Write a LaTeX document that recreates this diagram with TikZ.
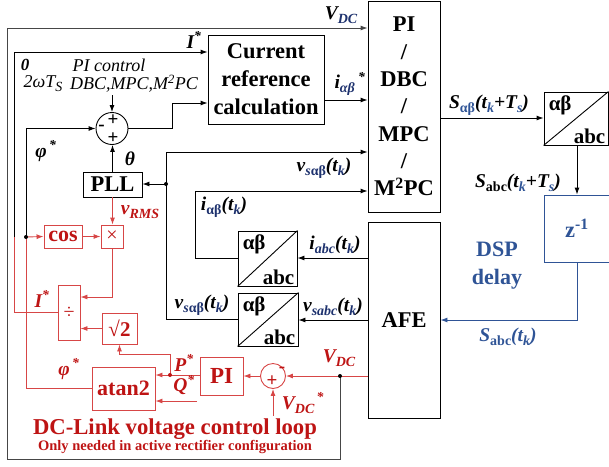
\documentclass[tikz,border=0pt]{standalone}
\usepackage{fontspec}
\setmainfont{Liberation Serif}
\usetikzlibrary{arrows.meta,calc}
\definecolor{rd}{RGB}{190,20,20}
\definecolor{rdl}{RGB}{215,70,70}
\definecolor{bl}{RGB}{47,84,150}
\definecolor{nv}{RGB}{30,50,110}
\definecolor{gr}{RGB}{70,70,70}
\newcommand\ssb[1]{\raisebox{-0.22em}{\fontsize{14}{14}\selectfont #1}}
\newcommand\nsb[1]{\raisebox{-0.22em}{\fontsize{14}{14}\selectfont\color{nv}#1}}
\newcommand\bsb[1]{\raisebox{-0.22em}{\fontsize{14}{14}\selectfont\color{bl}#1}}
\newcommand\st{\textsuperscript{*}}
\tikzset{
  bx/.style 2 args={draw,line width=0.9pt,minimum width=#1,minimum height=#2,inner sep=0pt,align=center},
  bigtxt/.style={font=\fontsize{22.5}{28}\selectfont\bfseries},
  redtxt/.style={font=\fontsize{22}{26}\selectfont\bfseries,text=rd,draw=rdl},
  lab/.style={font=\fontsize{19.5}{21}\selectfont\bfseries\itshape,inner sep=0pt},
  ilab/.style={font=\fontsize{18}{20}\selectfont\itshape,inner sep=0pt},
  sgn/.style={font=\fontsize{19}{19}\selectfont\bfseries,inner sep=0pt},
  ln/.style={line width=0.9pt},
  rl/.style={line width=0.9pt,draw=rdl},
}
\begin{document}
\begin{tikzpicture}[x=1pt,y=-1pt,>={Latex[length=7pt,width=5pt]}]
\useasboundingbox (0,0) rectangle (609,466);
% main blocks
\node[bx={116}{89},bigtxt] (cur) at (266,79.5) {Current\\reference\\calculation};
\node[bx={72}{211},bigtxt,font=\fontsize{22.5}{27.3}\selectfont\bfseries] (pi) at (404,106.5) {PI\\/\\DBC\\/\\MPC\\/\\M\textsuperscript{2}PC};
\node[bx={72}{196},bigtxt] (afe) at (404,320) {AFE};
\node[bx={64}{53}] (ab1) at (576,118.5) {};
\node[bx={66}{67},draw=bl,text=bl,bigtxt] (z) at (577,228.5) {z\textsuperscript{-1}};
\node[bx={59}{55}] (ab2) at (267.5,258.5) {};
\node[bx={60}{53}] (ab3) at (268,319.5) {};
\node[bx={59}{25},bigtxt] (pll) at (112.5,184.5) {PLL};
\node[circle,draw,ln,minimum size=32pt,inner sep=0pt] (s1) at (112,128.5) {};
\node[sgn] at (113,120) {+};
\node[sgn] at (113,138.5) {+};
\node[sgn] at (101.5,128) {-};
% alpha-beta boxes
\foreach \b in {ab1,ab2,ab3}{
  \draw[ln] (\b.south west) -- (\b.north east);
  \node[anchor=north west,inner sep=0pt,font=\fontsize{21}{21}\selectfont\bfseries] at ($(\b.north west)+(5,4)$) {αβ};
  \node[anchor=south east,inner sep=0pt,font=\fontsize{21}{21}\selectfont\bfseries] at ($(\b.south east)+(-3,-2)$) {abc};
}
% red blocks
\node[bx={38}{23},redtxt] (cos) at (63,236.5) {cos};
\node[bx={22}{23},redtxt,font=\fontsize{20}{20}\selectfont] (mul) at (112,236.5) {×};
\node[bx={22}{55},redtxt,font=\fontsize{20}{20}\selectfont] (div) at (69,312.5) {÷};
\node[bx={35}{31},redtxt,font=\fontsize{21}{21}\selectfont\bfseries] (sq) at (119.5,328.5) {√2};
\node[bx={63}{43},redtxt] (atan) at (123.5,388.5) {atan2};
\node[bx={43}{38},redtxt,font=\fontsize{23}{23}\selectfont\bfseries] (pir) at (221.5,376) {PI};
\node[circle,draw=rdl,line width=0.9pt,minimum size=25pt,inner sep=0pt] (s2) at (273,376) {};
\node[sgn,text=rd] at (272,381) {+};
\node[sgn,text=rd] at (282,370) {-};
% coordinates
\coordinate (J) at (340,376);
\coordinate (K) at (166,184);
\coordinate (Pj) at (170,375);
\coordinate (Fj) at (26,237);
% black connections
\draw[ln,gr,->] (J) |- (7,459) |- (pi.west |- 0,28);
\draw[rl] (div.west) -| (14,237);
\draw[ln,->] (14,237) |- (cur.west |- 0,52);
\draw[rl] (atan.west) -| (Fj);
\draw[ln,->] (Fj) |- (s1.west);
\draw[rl,->] (Fj) -- (cos.west);
\draw[ln,->] (112,95) -- (s1.north);
\draw[ln,->] (s1.east) -- (172,128.5) |- (cur.west |- 0,103);
\draw[ln,->] (pll.north) -- (pll.north |- s1.south);
\draw[ln,->] (cur.east |- 0,100) -- (pi.west |- 0,100);
\draw[ln,->] (K) -- (pll.east |- K);
\draw[ln,->] (K) |- (pi.west |- 0,152);
\draw[ln] (ab3.west) -| (K);
\draw[ln,->] (afe.west |- 0,258) -- (ab2.east |- 0,258);
\draw[ln,->] (ab2.west) -| (195,191) -- (pi.west |- 0,191);
\draw[ln,->] (afe.west |- 0,320) -- (ab3.east |- 0,320);
\draw[ln,->] (pi.east |- 0,118) -- (ab1.west |- 0,118);
\draw[ln,->] (577,145) -- (z.north);
\draw[ln,bl,->] (z.south) |- (afe.east |- 0,320);
% red connections
\draw[rl,->] (cos) -- (mul);
\draw[rl,->] (pll.south) -- (pll.south |- mul.north);
\draw[rl,->] (mul.south) |- (div.east |- 0,297);
\draw[rl,->] (sq.west) -- (div.east |- sq.west);
\draw[rl,->] (Pj) -- (170,354) -| (sq.south);
\draw[rl,->] (pir.west |- Pj) -- (atan.east |- Pj);
\draw[rl,->] (197,401) -- (atan.east |- 0,401);
\draw[rl,->] (s2) -- (pir);
\draw[rl,->] (afe.west |- J) -- (s2.east);
\draw[rl,->] (273,416) -- (s2.south);
% dots
\fill (J) circle (2);
\fill (K) circle (2);
\fill (Fj) circle (2);
\fill[rd] (Pj) circle (2);
% black labels
\node[lab] at (341,15) {V\nsb{DC}};
\node[lab] at (194,40) {I\st};
\node[lab] at (350,84) {i\nsb{αβ}\,\textsuperscript{*}};
\node[lab,font=\fontsize{17}{17}\selectfont\bfseries\itshape] at (25,65) {0};
\node[ilab] at (43,84) {2ωT\ssb{S}};
\node[ilab] at (109,65) {PI control};
\node[ilab] at (134,84) {DBC,MPC,M\textsuperscript{2}PC};
\node[lab] at (46,151) {φ\textsuperscript{\,*}};
\node[lab] at (130,159) {θ};
\node[lab] at (324,168) {v\nsb{s\upshape αβ}(t\nsb{k})};
\node[lab] at (224,207) {i\nsb{\upshape αβ}(t\nsb{k})};
\node[lab] at (335,245) {i\nsb{abc}(t\nsb{k})};
\node[lab] at (202,305) {v\nsb{s\upshape αβ}(t\nsb{k})};
\node[lab] at (333,307) {v\nsb{sabc}(t\nsb{k})};
\node[lab] at (489,105) {S\bsb{\upshape αβ}(t\bsb{k}+T\bsb{s})};
\node[lab] at (518,183) {S\ssb{\upshape abc}(t\bsb{k}+T\bsb{s})};
\node[lab,text=bl] at (508,337) {S\ssb{\upshape abc}(t\ssb{k})};
\node[font=\fontsize{22}{28}\selectfont\bfseries,text=bl,align=center] at (497,266) {DSP\\delay};
% red labels
\node[lab,text=rd] at (140,212) {v\ssb{RMS}};
\node[lab,text=rd] at (42,299) {I\st};
\node[lab,text=rd] at (69,369) {φ\textsuperscript{\,*}};
\node[lab,text=rd] at (184,363) {P\st};
\node[lab,text=rd] at (184,385) {Q\st};
\node[lab,text=rd] at (339,358) {V\ssb{DC}};
\node[lab,text=rd] at (303,403) {V\ssb{DC}\textsuperscript{\,*}};
\node[text=rd,font=\fontsize{22.7}{24}\selectfont\bfseries,inner sep=0pt] at (175,429) {DC-Link voltage control loop};
\node[text=rd,font=\fontsize{14.5}{16}\selectfont\bfseries,inner sep=0pt] at (175,447) {Only needed in active rectifier configuration};
\end{tikzpicture}
\end{document}
